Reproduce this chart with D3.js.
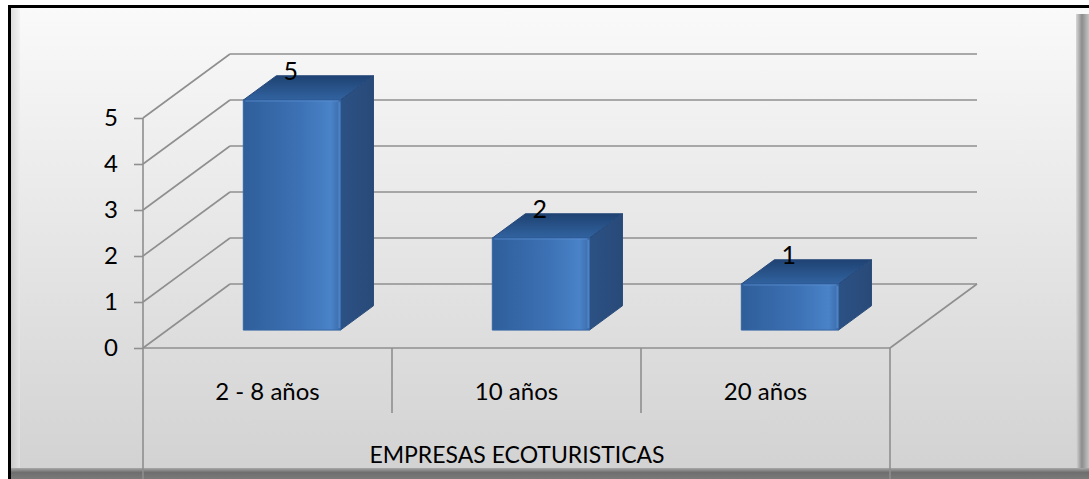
<!DOCTYPE html>
<html>
<head>
<meta charset="utf-8">
<script src="https://cdn.jsdelivr.net/npm/d3@7"></script>
<style>
  html, body { margin: 0; padding: 0; background: #fff; }
  svg { display: block; font-family: Lato, "Open Sans", sans-serif; }
</style>
</head>
<body>
<svg id="chart" width="1089" height="479"></svg>
<script>
// data
var categories = ["2 - 8 años", "10 años", "20 años"];
var values = [5, 2, 1];
var yTicks = [0, 1, 2, 3, 4, 5];
var axisTitle = "EMPRESAS ECOTURISTICAS";

var W = 1089, H = 479;
var svg = d3.select("#chart");
var defs = svg.append("defs");

// gradients
function grad(id, x1, y1, x2, y2, stops) {
  var g = defs.append("linearGradient").attr("id", id)
    .attr("x1", x1).attr("y1", y1).attr("x2", x2).attr("y2", y2);
  stops.forEach(function(s){
    g.append("stop").attr("offset", s[0]).attr("stop-color", s[1]);
  });
}
grad("bg", 0, 0, 0, 1, [[0, "#fafafa"], [1, "#d1d1d1"]]);
grad("bevL", 0, 0, 1, 0, [[0, "#bdbdbd"], [1, "#eeeeee"]]);
grad("bevR", 0, 0, 1, 0, [[0, "#d8d8d8"], [0.45, "#8c8c8c"], [1, "#c4c4c4"]]);
grad("bevB", 0, 0, 0, 1, [[0, "#a8a8a8"], [0.4, "#6e6e6e"], [1, "#7a7a7a"]]);
grad("front", 0, 0, 1, 0, [[0, "#2f5e9a"], [0.6, "#3d72b6"], [0.9, "#4a83c8"], [1, "#3b6cab"]]);
grad("side", 0, 0, 1, 0, [[0, "#2c5184"], [1, "#284a79"]]);
grad("top", 0, 0, 0, 1, [[0, "#1f4272"], [1, "#3163a0"]]);

// frame
svg.append("rect").attr("x", 9).attr("y", 6).attr("width", W).attr("height", H)
  .attr("fill", "url(#bg)");
svg.append("rect").attr("x", 10).attr("y", 7).attr("width", 10).attr("height", 462)
  .attr("fill", "url(#bevL)").attr("opacity", 0.5);
svg.append("rect").attr("x", 1076).attr("y", 14).attr("width", 13).attr("height", 456)
  .attr("fill", "url(#bevR)");
svg.append("rect").attr("x", 10).attr("y", 468).attr("width", W).attr("height", 11)
  .attr("fill", "url(#bevB)");
svg.append("path").attr("d", "M9.5," + H + "V6.5H" + W)
  .attr("fill", "none").attr("stroke", "#000").attr("stroke-width", 3);

// 3D projection: front plane + depth vector
var depthX = 87, depthY = -64;
var y = d3.scaleLinear().domain([0, 5]).range([348, 118]);
var x = d3.scaleBand().domain(categories).range([143, 890]);

var gridColor = "#8f8f8f";
var grid = svg.append("g").attr("stroke", gridColor).attr("stroke-width", 1.6).attr("fill", "none");

// back wall gridlines
grid.selectAll(".back").data(yTicks).enter().append("line")
  .attr("x1", 143 + depthX).attr("x2", 890 + depthX)
  .attr("y1", function(d){ return y(d) + depthY; })
  .attr("y2", function(d){ return y(d) + depthY; });
// side wall diagonals
grid.selectAll(".side").data(yTicks).enter().append("line")
  .attr("x1", 143).attr("x2", 143 + depthX)
  .attr("y1", function(d){ return y(d); })
  .attr("y2", function(d){ return y(d) + depthY; });
// floor front edge + right edge
grid.append("line").attr("x1", 143).attr("x2", 890).attr("y1", y(0)).attr("y2", y(0));
grid.append("line").attr("x1", 890).attr("x2", 890 + depthX).attr("y1", y(0)).attr("y2", y(0) + depthY);

// category table lines
grid.append("line").attr("x1", 143).attr("x2", 143).attr("y1", y(5)).attr("y2", H);
grid.append("line").attr("x1", 890).attr("x2", 890).attr("y1", y(0)).attr("y2", H);
grid.selectAll(".div").data(categories.slice(1)).enter().append("line")
  .attr("x1", function(d){ return x(d); }).attr("x2", function(d){ return x(d); })
  .attr("y1", y(0)).attr("y2", 413);

// y axis ticks + labels
var yAxis = d3.axisLeft(y).tickValues(yTicks).tickSize(9).tickPadding(16).tickFormat(d3.format("d"));
var ax = svg.append("g").attr("transform", "translate(143,0)").call(yAxis);
ax.select(".domain").remove();
ax.selectAll(".tick line").attr("stroke", gridColor).attr("stroke-width", 1.6);
ax.selectAll(".tick text").attr("fill", "#000").attr("font-size", 24)
  .attr("font-family", "Lato, sans-serif");

// bars
var t0 = 0.28, t1 = 0.66, bw = 0.39;
function P(px, v, t) { return [px + depthX * t, y(v) + depthY * t]; }
function poly(pts) { return "M" + pts.map(function(p){ return p.join(","); }).join("L") + "Z"; }

var bars = svg.append("g").selectAll("g").data(values).enter().append("g");
bars.each(function(v, i){
  var g = d3.select(this);
  var c = x(categories[i]) + x.bandwidth() / 2;
  var l = c - x.bandwidth() * bw / 2, r = c + x.bandwidth() * bw / 2;
  var a = P(l, 0, t0), b = P(r, 0, t0), cc = P(r, v, t0), d = P(l, v, t0);
  var b2 = P(r, 0, t1), c2 = P(r, v, t1), d2 = P(l, v, t1);
  g.append("path").attr("d", poly([b, b2, c2, cc])).attr("fill", "url(#side)")
    .attr("stroke", "#2a4d7c").attr("stroke-width", 1).attr("stroke-linejoin", "round");
  g.append("path").attr("d", poly([d, cc, c2, d2])).attr("fill", "url(#top)")
    .attr("stroke", "#27497a").attr("stroke-width", 1).attr("stroke-linejoin", "round");
  g.append("path").attr("d", poly([a, b, cc, d])).attr("fill", "url(#front)")
    .attr("stroke", "#3465a4").attr("stroke-width", 1).attr("stroke-linejoin", "round");
  // bevel highlights
  g.append("path").attr("d", "M" + (d[0] + 2) + "," + (d[1] + 1) + "L" + (cc[0] - 2) + "," + (cc[1] + 1))
    .attr("stroke", "#5a8fd0").attr("stroke-width", 1.5).attr("opacity", 0.5);
  g.append("path").attr("d", "M" + (cc[0] - 1) + "," + (cc[1] + 2) + "L" + (b[0] - 1) + "," + (b[1] - 2))
    .attr("stroke", "#5a92d6").attr("stroke-width", 2).attr("opacity", 0.6);
  // value label
  g.append("text").attr("x", c + depthX * t0 - 1).attr("y", d2[1] + 4)
    .attr("text-anchor", "middle").attr("font-size", 25).attr("fill", "#000")
    .text(v);
});

// category labels
svg.append("g").selectAll("text").data(categories).enter().append("text")
  .attr("x", function(d){ return x(d) + x.bandwidth() / 2; })
  .attr("y", 400).attr("text-anchor", "middle").attr("font-size", 24).attr("fill", "#000")
  .text(function(d){ return d; });

svg.append("text").attr("x", 517).attr("y", 463).attr("text-anchor", "middle")
  .attr("font-size", 23).attr("fill", "#000").text(axisTitle);
</script>
</body>
</html>
